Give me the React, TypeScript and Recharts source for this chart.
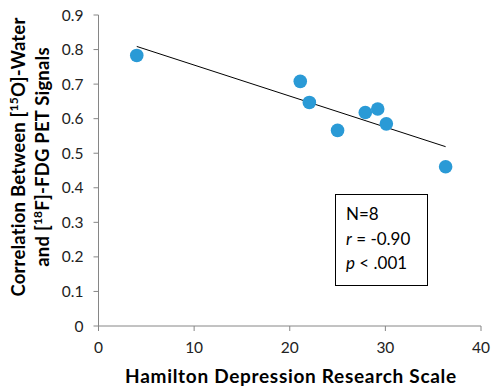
import React from "react";
import { ScatterChart, Scatter, XAxis, YAxis, Label } from "recharts";

// Hamilton score vs. [15O]-water / [18F]-FDG correlation, one point per subject
const hamilton = [4.0, 21.1, 22.05, 25.0, 27.9, 29.2, 30.1, 36.3];
const correlation = [0.783, 0.708, 0.647, 0.566, 0.618, 0.628, 0.585, 0.461];

// linear trendline endpoints as drawn in the figure
const trendX = [4.0, 36.3];
const trendY = [0.809, 0.519];

const xTicks = [0, 10, 20, 30, 40];
const yTicks = [0, 0.1, 0.2, 0.3, 0.4, 0.5, 0.6, 0.7, 0.8, 0.9];

const statLines = ["N=8", "r = -0.90", "p < .001"];

const FONT = "Lato, 'Open Sans', sans-serif";
const AXIS = "#868686";
const DOT = "#2a9ad6";

const points = hamilton.map((x, i) => ({ x, y: correlation[i] }));
const trend = trendX.map((x, i) => ({ x, y: trendY[i] }));

function Dot(props: any) {
  const { cx, cy } = props;
  if (cx == null || cy == null) return <g />;
  return <circle cx={cx} cy={cy} r={6.8} fill={DOT} />;
}

function YTitle() {
  return (
    <g fontFamily={FONT} fontWeight={700} fontSize={18.5} fill="#000" letterSpacing={0.2}>
      <text transform="translate(25,157) rotate(-90)" textAnchor="middle">
        Correlation Between [<tspan fontSize={12} dy={-7}>15</tspan>
        <tspan dy={7}>O]-Water</tspan>
      </text>
      <text transform="translate(49,157) rotate(-90)" textAnchor="middle">
        and [<tspan fontSize={12} dy={-7}>18</tspan>
        <tspan dy={7}>F]-FDG PET Signals</tspan>
      </text>
    </g>
  );
}

function XTitle() {
  return (
    <text
      x={291}
      y={383}
      textAnchor="middle"
      fontFamily={FONT}
      fontWeight={700}
      fontSize={19}
      letterSpacing={0.7}
      fill="#000"
    >
      Hamilton Depression Research Scale
    </text>
  );
}

export default function App() {
  return (
    <div style={{ position: "absolute", left: 0, top: 0, width: 491, height: 388, background: "#fff" }}>
      <ScatterChart width={491} height={388} margin={{ top: 15, right: 10, bottom: 0, left: 0 }}>
        <XAxis
          type="number"
          dataKey="x"
          domain={[0, 40]}
          ticks={xTicks}
          height={62}
          stroke={AXIS}
          tickSize={5}
          tickMargin={11}
          tick={{ fill: "#222", fontSize: 15.5, fontFamily: FONT }}
        >
          <Label content={() => <XTitle />} />
        </XAxis>
        <YAxis
          type="number"
          dataKey="y"
          domain={[0, 0.9]}
          ticks={yTicks}
          width={98.5}
          stroke={AXIS}
          tickSize={5}
          tickMargin={10}
          tickFormatter={(v: number) => (v === 0 ? "0" : v.toFixed(1))}
          tick={{ fill: "#222", fontSize: 15.5, fontFamily: FONT }}
        >
          <Label content={() => <YTitle />} />
        </YAxis>
        <Scatter
          data={trend}
          line={{ stroke: "#000", strokeWidth: 1 }}
          shape={() => <g />}
          isAnimationActive={false}
        />
        <Scatter data={points} fill={DOT} shape={Dot} isAnimationActive={false} />
      </ScatterChart>
      <div
        style={{
          position: "absolute",
          left: 335,
          top: 194,
          width: 93,
          height: 92,
          border: "1px solid #000",
          boxSizing: "border-box",
          background: "#fff",
          fontFamily: FONT,
          fontSize: 17,
          lineHeight: "24.5px",
          color: "#000",
          padding: "7px 0 0 10px",
        }}
      >
        <div>{statLines[0]}</div>
        <div>
          <i>{statLines[1].slice(0, 1)}</i>
          {statLines[1].slice(1)}
        </div>
        <div>
          <i>{statLines[2].slice(0, 1)}</i>
          {statLines[2].slice(1)}
        </div>
      </div>
    </div>
  );
}
